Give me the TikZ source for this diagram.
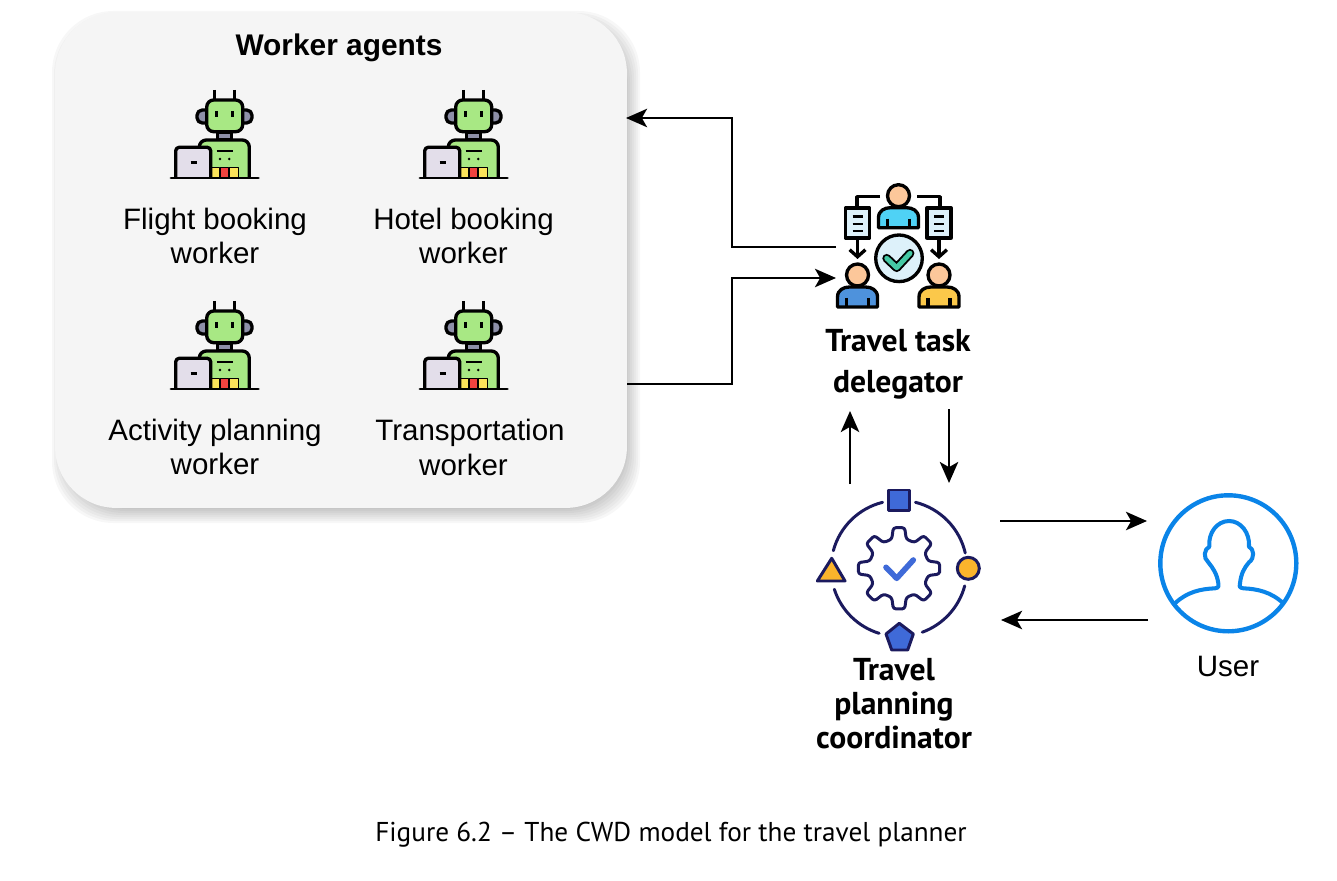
\documentclass[tikz,border=0pt]{standalone}
\usepackage{fontspec}
\setmainfont{Liberation Sans}
\newfontfamily\capfont{PT Sans}
\usetikzlibrary{arrows.meta,positioning,calc}
\definecolor{panelgray}{HTML}{F5F5F5}
\definecolor{robotgreen}{HTML}{A8E884}
\definecolor{robotgray}{HTML}{8E90A8}
\definecolor{laptopgray}{HTML}{E3DEEA}
\definecolor{blockyellow}{HTML}{FBE35A}
\definecolor{blockred}{HTML}{F0433F}
\definecolor{docblue}{HTML}{DDF1FA}
\definecolor{topblue}{HTML}{4FD2F5}
\definecolor{leftblue}{HTML}{4E92DC}
\definecolor{rightyellow}{HTML}{FBC84A}
\definecolor{skin}{HTML}{FCC79A}
\definecolor{checkgreen}{HTML}{45C9A5}
\definecolor{navy}{HTML}{1B1A5E}
\definecolor{royal}{HTML}{3F6AD8}
\definecolor{amber}{HTML}{FBB42C}
\definecolor{userblue}{HTML}{0A84E8}
\tikzset{
  flow/.style={draw=black,line width=1.2pt,-{Stealth[length=12pt,width=10.5pt,inset=3pt]}},
  workerlabel/.style={font=\fontsize{16.8}{19.8}\selectfont,align=center,inner sep=0pt},
  titlelabel/.style={font=\fontsize{17}{20}\bfseries\selectfont,inner sep=0pt},
  agentlabel/.style={font=\capfont\fontsize{18}{19.4}\bfseries\selectfont,align=center,inner sep=0pt},
  icon/.style={draw=black,line width=1.9pt,line join=round},
  orbit/.style={draw=navy,line width=1.7pt,line cap=round},
  orbitshape/.style={draw=navy,line width=1.7pt,line join=round},
  pics/robot/.style={code={
    % antennas, ears, neck
    \draw[icon,line width=1.4pt] (44.3,-88) -- (44.3,-78) (64.3,-88) -- (64.3,-78);
    \draw[icon,fill=robotgray,rounded corners=3pt] (27,-68) rectangle (82,-55);
    \draw[icon,fill=robotgray] (47.5,-46) rectangle (61.5,-38);
    % head and body
    \draw[icon,fill=robotgreen,rounded corners=4pt] (36.7,-78) rectangle (72.7,-46.3);
    \draw[icon,fill=robotgreen,rounded corners=4pt] (29.3,-1) -- (29.3,-38) -- (79.3,-38) -- (79.3,-1);
    \draw[line width=1.6pt] (46.7,-67) -- (46.7,-61) (62.7,-67) -- (62.7,-61);
    \draw[line width=1.5pt] (46.7,-27) -- (62.7,-27);
    \fill (50,-19) circle (1.4) (59.3,-19) circle (1.4);
    % colour blocks
    \draw[icon,line width=.5pt,fill=blockyellow] (41.7,-11) rectangle (49.6,-1);
    \draw[icon,line width=.5pt,fill=blockred] (50.3,-11) rectangle (58.7,-1);
    \draw[icon,line width=.5pt,fill=blockyellow] (59.6,-11) rectangle (68.3,-1);
    % laptop and desk
    \draw[icon,fill=laptopgray,rounded corners=2pt] (5.7,-1) -- (5.7,-30.7) -- (40.7,-30.7) -- (40.7,-1);
    \draw[line width=1.5pt] (20.7,-15.3) -- (26.7,-15.3);
    \draw[line width=1.7pt,line cap=round] (1,0) -- (88.3,0);
  }},
  pics/person/.style={code={
    \draw[icon,fill=#1] (-20,32) -- (-20,22) .. controls (-20,15) and (-14,12) .. (-8,12)
      -- (8,12) .. controls (14,12) and (20,15) .. (20,22) -- (20,32) -- cycle;
    \draw[icon] (-11,23) -- (-11,32) (11,23) -- (11,32);
    \draw[icon,fill=skin] (0,0) circle (11);
  }},
  pics/report/.style={code={
    \draw[icon,fill=docblue] (-12,0) rectangle (12,30);
    \draw[line width=1.7pt] (-5,8.7) -- (5,8.7) (-5,16) -- (5,16) (-5,23) -- (5,23);
  }}
}
\begin{document}
\begin{tikzpicture}[x=0.02cm,y=-0.02cm]
  \useasboundingbox (0,0) rectangle (1337,881);
  % Soft shadow under the panel
  \foreach \g in {8,6,...,-6}
    \fill[black,opacity=.03,rounded corners=35pt]
      (60-\g,19-\g) rectangle (632+\g,515+\g);
  % Worker panel
  \node[fill=panelgray,rounded corners=35pt,minimum width=11.44cm,minimum height=9.92cm,inner sep=0pt] (workers) at (341,260) {};
  \node[titlelabel] (title) at (339,48) {Worker agents};
  % Robots
  \pic at (170,178) {robot};
  \pic at (419,178) {robot};
  \pic at (170,389) {robot};
  \pic at (419,389) {robot};
  \node[workerlabel] (flight) at (215,236) {Flight booking\\worker};
  \node[workerlabel] (hotel) at (463.5,236) {Hotel booking\\worker};
  \node[workerlabel] (activity) at (215,447) {Activity planning\\worker};
  \node[workerlabel] (transport) at (470,433) {Transportation};
  \node[workerlabel] (transportb) at (463.5,465) {worker};
  % Delegator icon
  \pic at (898.5,195.7) {person=topblue};
  \pic at (857.5,275) {person=leftblue};
  \pic at (939,275) {person=rightyellow};
  \pic at (857.5,208) {report};
  \pic at (939,208) {report};
  \draw[icon] (880,196.7) -- (857,196.7) -- (857,208);
  \draw[icon] (917.3,196.7) -- (940,196.7) -- (940,208);
  \draw[icon,-{Straight Barb[length=4pt,width=9pt]}] (857.5,238) -- (857.5,259);
  \draw[icon,-{Straight Barb[length=4pt,width=9pt]}] (939,238) -- (939,259);
  \draw[icon,fill=docblue] (899,258.3) circle (23.3);
  \draw[line width=5pt,line cap=round,line join=round] (886.7,258.3) -- (896.7,267.7) -- (910,253.3);
  \draw[checkgreen,line width=2.8pt,line cap=round,line join=round] (886.7,258.3) -- (896.7,267.7) -- (910,253.3);
  \node[agentlabel] (delegator) at (898,364.5) {Travel task\\[4pt]delegator};
  % Coordinator icon
  \coordinate (hub) at (899,568.3);
  \foreach \s/\e in {76/13,-15/-70,-107/-162,165/104}
    \draw[orbit] ($(hub)+(\s:68 and -68)$) arc[start angle=\s,end angle=\e,x radius=68,y radius=-68];
  \draw[orbitshape,fill=royal] (888.3,490) rectangle (909.3,510.7);
  \draw[orbitshape,fill=amber] (831.7,558.3) -- (817.3,581) -- (845,581) -- cycle;
  \draw[orbitshape,fill=amber] (968.3,568.3) circle (11);
  \draw[orbitshape,fill=royal] (899.3,623.3) -- (886,634) -- (891.7,650) -- (907.7,650) -- (913.3,634) -- cycle;
  \draw[orbitshape,rounded corners=1.5pt] ($(hub)+(-8:41 and -41)$)
    \foreach \a in {0,45,...,315} {
      -- ($(hub)+(\a-8:41 and -41)$) -- ($(hub)+(\a+8:41 and -41)$)
      -- ($(hub)+(\a+14:30 and -30)$) -- ($(hub)+(\a+31:30 and -30)$)
    } -- cycle;
  \draw[royal,line width=3.2pt,line cap=round,line join=round] (886,567.3) -- (896.7,578.3) -- (913.3,560);
  \node[agentlabel] (coordinator) at (894,704) {Travel\\planning\\coordinator};
  % User icon
  \draw[userblue,line width=2.5pt] (1228.3,563.3) circle (68);
  \draw[userblue,line width=2.3pt,line join=round] (1175,603.3)
    .. controls (1187,592) and (1200,589) .. (1215,588.3)
    .. controls (1219,588) and (1219,585) .. (1218.3,583.3)
    .. controls (1217,574) and (1213,568) .. (1208.3,562.3)
    .. controls (1203,558) and (1204,549) .. (1209.3,546.7)
    .. controls (1208,533) and (1217,521) .. (1229,521)
    .. controls (1241,521) and (1250,533) .. (1249,546.7)
    .. controls (1254,549) and (1255,558) .. (1249,562.3)
    .. controls (1244,568) and (1241,574) .. (1240,583.3)
    .. controls (1239,585) and (1239,588) .. (1243.3,588.3)
    .. controls (1258,589) and (1271,592) .. (1283.3,603.3);
  \node[workerlabel] (user) at (1228,666) {User};
  % End points of the connectors
  \coordinate (delOut) at (836,247);
  \coordinate (delIn) at (836,278);
  \coordinate (wrkIn) at (626,118);
  \coordinate (wrkOut) at (627,384);
  \coordinate (delDown) at (949,409);
  \coordinate (delUp) at (850,411);
  \coordinate (hubUp) at (850,484);
  \coordinate (hubDown) at (949,483);
  \coordinate (hubOut) at (1000,521);
  \coordinate (hubIn) at (1001,620);
  \coordinate (userIn) at (1147,521);
  \coordinate (userOut) at (1148,620);
  % Connectors
  \draw[flow] (delOut) -- ++(-104,0) |- (wrkIn);
  \draw[flow] (wrkOut) -- ++(105,0) |- (delIn);
  \draw[flow] (hubUp) -- (delUp);
  \draw[flow] (delDown) -- (hubDown);
  \draw[flow] (hubOut) -- (userIn);
  \draw[flow] (userOut) -- (hubIn);
  % Caption
  \node[font=\capfont\fontsize{15.5}{18}\selectfont,inner sep=0pt] (caption) at (671,835) {Figure 6.2 – The CWD model for the travel planner};
\end{tikzpicture}
\end{document}
